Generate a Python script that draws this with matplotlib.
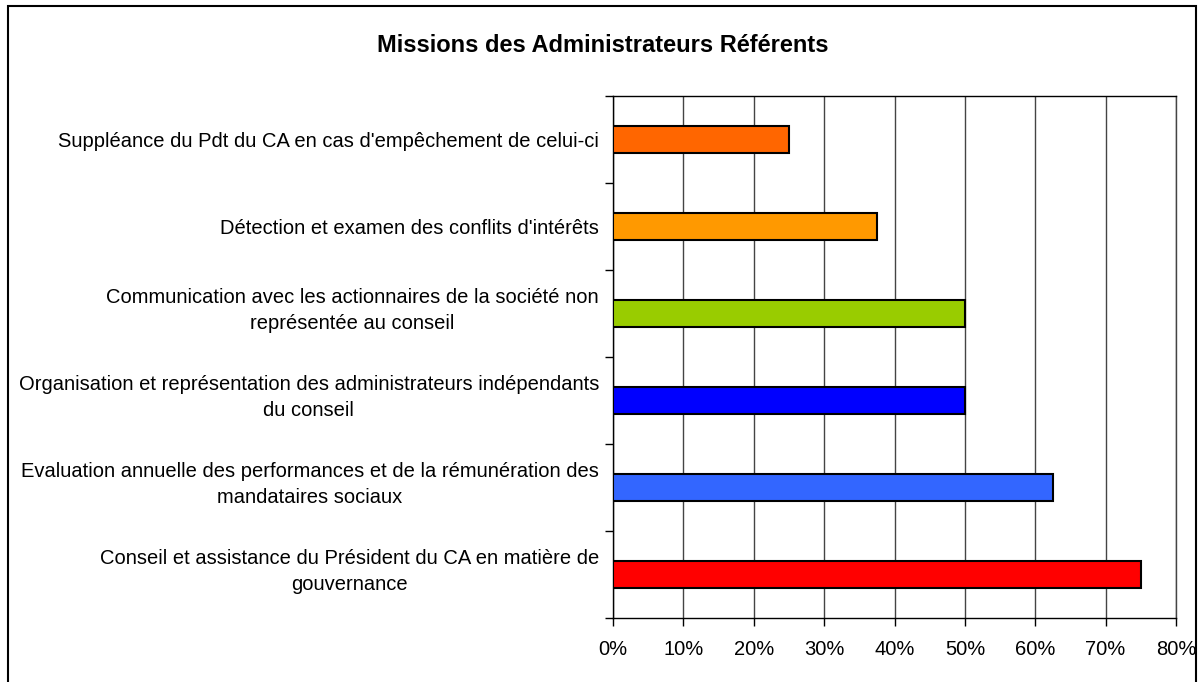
import matplotlib
matplotlib.use('Agg')
import matplotlib.pyplot as plt
from matplotlib.patches import Rectangle
from matplotlib.ticker import FixedLocator, PercentFormatter
from matplotlib.transforms import blended_transform_factory, ScaledTranslation

plt.rcParams['font.family'] = ['Liberation Sans', 'DejaVu Sans']

# top to bottom as in the chart
labels = [
    "Suppléance du Pdt du CA en cas d'empêchement de celui-ci",
    "Détection et examen des conflits d'intérêts",
    "Communication avec les actionnaires de la société non\nreprésentée au conseil",
    "Organisation et représentation des administrateurs indépendants\ndu conseil",
    "Evaluation annuelle des performances et de la rémunération des\nmandataires sociaux",
    "Conseil et assistance du Président du CA en matière de\ngouvernance",
]
values = [25, 37.5, 50, 50, 62.5, 75]
colors = ['#FF6600', '#FF9900', '#99CC00', '#0000FF', '#3366FF', '#FF0000']
x_ticks = [0, 10, 20, 30, 40, 50, 60, 70, 80]

fig = plt.figure(figsize=(11.98, 6.82), dpi=100)
ax = fig.add_axes([613 / 1198, 1 - 618 / 682, 563 / 1198, 522 / 682])

n = len(labels)
ypos = list(range(n - 1, -1, -1))
ax.barh(ypos, values, height=0.32, color=colors, edgecolor='black',
        linewidth=1.5, zorder=3)

ax.set_xlim(0, 80)
ax.set_ylim(-0.5, n - 0.5)
ax.xaxis.set_major_locator(FixedLocator(x_ticks))
ax.xaxis.set_major_formatter(PercentFormatter(decimals=0))
ax.grid(axis='x', color='#444444', linewidth=1, zorder=0)

# ticks sit on the category boundaries, like Excel
ax.yaxis.set_major_locator(FixedLocator([i - 0.5 for i in range(n + 1)]))
ax.yaxis.set_major_formatter(plt.NullFormatter())
ax.tick_params(axis='y', which='major', length=6, width=1)
ax.tick_params(axis='x', length=6, width=1, pad=10, labelsize=14.5)

# category labels, two-line ones sit a bit high
for y, lab in zip(ypos, labels):
    dy = 3 / 100 if '\n' in lab else -2 / 100
    tr = blended_transform_factory(ax.transAxes, ax.transData) + \
        ScaledTranslation(-14 / 100, dy, fig.dpi_scale_trans)
    ax.text(0, y, lab, transform=tr, ha='right', va='center',
            multialignment='center', linespacing=1.45, fontsize=14.5)

for s in ax.spines.values():
    s.set_color('black')
    s.set_linewidth(1)
ax.spines['right'].set_color('#444444')

fig.text(603 / 1198, 1 - 45 / 682, 'Missions des Administrateurs Référents',
         ha='center', va='center', fontsize=17, fontweight='bold')

fig.add_artist(Rectangle((8 / 1198, -0.05), 1188 / 1198, 1.05 - 6 / 682,
                         transform=fig.transFigure, fill=False,
                         edgecolor='black', linewidth=1.5))

fig.savefig('out.png', dpi=100)
